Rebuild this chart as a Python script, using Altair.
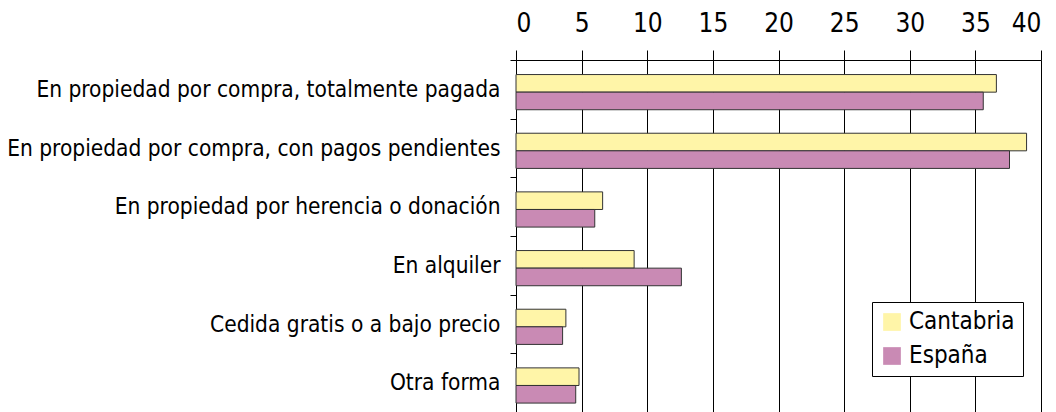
import altair as alt
import pandas as pd

categories = [
    "En propiedad por compra, totalmente pagada",
    "En propiedad por compra, con pagos pendientes",
    "En propiedad por herencia o donación",
    "En alquiler",
    "Cedida gratis o a bajo precio",
    "Otra forma",
]
cantabria = [36.6, 38.9, 6.6, 9.0, 3.8, 4.8]
espana = [35.6, 37.6, 6.0, 12.6, 3.55, 4.55]
series = ["Cantabria", "España"]
colors = ["#FFF5A8", "#C98AB4"]
x_ticks = [0, 5, 10, 15, 20, 25, 30, 35, 40]

rows = []
for c, a, b in zip(categories, cantabria, espana):
    rows.append({"cat": c, "serie": series[0], "valor": a})
    rows.append({"cat": c, "serie": series[1], "valor": b})
df = pd.DataFrame(rows)

FONT = "Liberation Sans Narrow, DejaVu Sans Condensed, Liberation Sans"

chart = alt.Chart(df).mark_bar(stroke="#333333", strokeWidth=1).encode(
    x=alt.X(
        "valor:Q",
        scale=alt.Scale(domain=[0, 40], nice=False, zero=True),
        axis=alt.Axis(
            orient="top", values=x_ticks, title=None, grid=True,
            gridColor="black", gridOpacity=1, gridWidth=1,
            domainColor="black", tickColor="black", tickSize=10,
            labelPadding=14, labelFont=FONT, labelFontSize=26,
            labelColor="black", format="d",
        ),
    ),
    y=alt.Y(
        "cat:N", sort=categories,
        scale=alt.Scale(paddingInner=0, paddingOuter=0),
        axis=alt.Axis(
            title=None, tickBand="extent", tickSize=6, labelPadding=10,
            domainColor="black", tickColor="black", labelFont=FONT,
            labelFontSize=22.5, labelColor="black", labelLimit=0,
        ),
    ),
    yOffset=alt.YOffset(
        "serie:N", sort=series,
        scale=alt.Scale(paddingInner=0, paddingOuter=0.667, align=0.62),
    ),
    color=alt.Color(
        "serie:N", sort=series,
        scale=alt.Scale(domain=series, range=colors),
        legend=alt.Legend(
            title=None, orient="none", legendX=356, legendY=242,
            fillColor="white", strokeColor="black", padding=8,
            symbolType="square", symbolSize=313, symbolStrokeWidth=0,
            labelFont=FONT, labelFontSize=24, labelColor="black",
            rowPadding=10, labelOffset=5,
        ),
    ),
).properties(
    width=525, height=352,
    autosize="none",
    padding={"left": 508, "top": 52, "right": 7, "bottom": 0},
).configure_view(strokeWidth=0)

chart.save("out.html", embed_options={"renderer": "svg", "actions": False})
